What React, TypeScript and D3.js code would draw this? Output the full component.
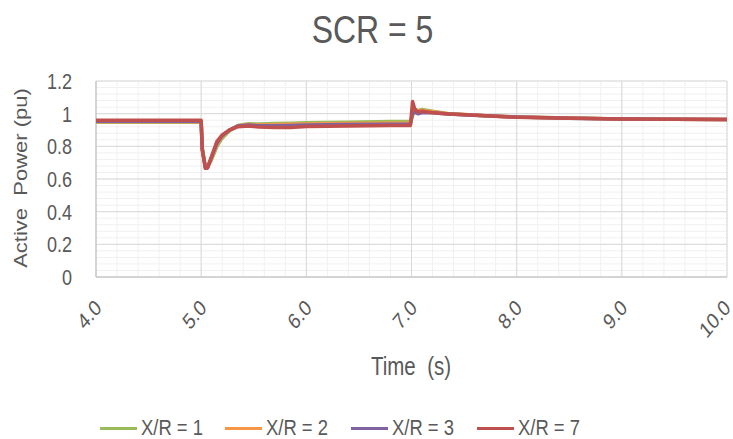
import React from "react";
import * as d3 from "d3";

const title = "SCR = 5";
const xLabel = "Time  (s)";
const yLabel = "Active  Power (pu)";
const xTicks = [4, 5, 6, 7, 8, 9, 10];
const yTicks = [0, 0.2, 0.4, 0.6, 0.8, 1, 1.2];
const seriesNames = ["X/R = 1", "X/R = 2", "X/R = 3", "X/R = 7"];
const seriesColors = ["#9BBB59", "#F79646", "#8064A2", "#C0504D"];

const time = [4.0, 5.0, 5.01, 5.04, 5.06, 5.1, 5.15, 5.2, 5.27, 5.35, 5.45, 5.55, 5.7, 5.85, 6.0, 6.4, 6.8, 6.99, 7.01, 7.03, 7.06, 7.1, 7.2, 7.35, 7.5, 7.75, 8.0, 8.5, 9.0, 9.5, 10.0];
const xr1 = [0.948, 0.948, 0.79, 0.675, 0.67, 0.72, 0.8, 0.85, 0.895, 0.928, 0.938, 0.936, 0.94, 0.942, 0.944, 0.948, 0.952, 0.953, 0.99, 1.01, 1.02, 1.025, 1.015, 1.0, 0.995, 0.985, 0.98, 0.973, 0.968, 0.966, 0.965];
const xr2 = [0.95, 0.95, 0.79, 0.67, 0.668, 0.73, 0.815, 0.86, 0.9, 0.926, 0.933, 0.93, 0.932, 0.935, 0.937, 0.94, 0.942, 0.943, 1.0, 1.03, 1.015, 1.02, 1.012, 1.0, 0.995, 0.986, 0.98, 0.973, 0.968, 0.966, 0.965];
const xr3 = [0.953, 0.953, 0.785, 0.668, 0.668, 0.735, 0.82, 0.865, 0.9, 0.925, 0.93, 0.926, 0.926, 0.928, 0.93, 0.933, 0.935, 0.936, 1.0, 1.01, 1.0, 1.005, 1.005, 0.998, 0.994, 0.985, 0.979, 0.972, 0.968, 0.966, 0.965];
const xr7 = [0.96, 0.96, 0.78, 0.665, 0.668, 0.74, 0.83, 0.87, 0.9, 0.92, 0.925, 0.918, 0.915, 0.916, 0.922, 0.925, 0.927, 0.928, 1.075, 1.03, 1.01, 1.015, 1.005, 0.998, 0.993, 0.985, 0.978, 0.972, 0.968, 0.966, 0.965];
const seriesValues = [xr1, xr2, xr3, xr7];

const W = 733;
const H = 439;
const SX = 0.82;
const FONT = "'Liberation Sans', Arial, sans-serif";
const TXT = "#595959";

export default function App() {
  const x = d3.scaleLinear().domain([4, 10]).range([96, 727]);
  const y = d3.scaleLinear().domain([0, 1.2]).range([277, 81]);
  const minorX = d3.range(4, 10.0001, 0.2);
  const minorY = d3.range(0, 1.2001, 0.04);
  const line = d3
    .line<[number, number]>()
    .x((d) => x(d[0]))
    .y((d) => y(d[1]));

  const legendX = [100, 225, 351, 477];

  return (
    <svg
      width={W}
      height={H}
      style={{ position: "absolute", left: 0, top: 0, background: "#fff" }}
      fontFamily={FONT}
    >
      <rect width={W} height={H} fill="#fff" />
      {minorX.map((v, i) => (
        <line key={"mx" + i} x1={x(v)} x2={x(v)} y1={y(0)} y2={y(1.2)} stroke="#F0F0F0" strokeWidth={1} />
      ))}
      {minorY.map((v, i) => (
        <line key={"my" + i} x1={x(4)} x2={x(10)} y1={y(v)} y2={y(v)} stroke="#F0F0F0" strokeWidth={1} />
      ))}
      {xTicks.map((v) => (
        <line key={"gx" + v} x1={x(v)} x2={x(v)} y1={y(0)} y2={y(1.2)} stroke="#D9D9D9" strokeWidth={1} />
      ))}
      {yTicks.map((v) => (
        <line key={"gy" + v} x1={x(4)} x2={x(10)} y1={y(v)} y2={y(v)} stroke="#D9D9D9" strokeWidth={1} />
      ))}
      <line x1={x(4)} x2={x(4)} y1={y(0)} y2={y(1.2)} stroke="#BFBFBF" strokeWidth={1} />
      <line x1={x(4)} x2={x(10)} y1={y(0)} y2={y(0)} stroke="#BFBFBF" strokeWidth={1} />

      {seriesValues.map((vals, si) => (
        <path
          key={"s" + si}
          d={line(time.map((t, i) => [t, vals[i]] as [number, number])) || ""}
          fill="none"
          stroke={seriesColors[si]}
          strokeWidth={3.5}
          strokeLinejoin="round"
        />
      ))}

      {yTicks.map((v) => (
        <text
          key={"yl" + v}
          transform={`translate(72,${y(v) + 8}) scale(${SX},1)`}
          textAnchor="end"
          fontSize={22}
          fill={TXT}
        >
          {String(v)}
        </text>
      ))}
      {xTicks.map((v) => (
        <text
          key={"xl" + v}
          transform={`translate(${Math.min(x(v) + 6.5, 731.5)},309) scale(${SX},1) rotate(-45)`}
          textAnchor="end"
          fontSize={22}
          fill={TXT}
        >
          {v.toFixed(1)}
        </text>
      ))}

      <text transform={`translate(372.5,43) scale(${SX},1)`} textAnchor="middle" fontSize={39} fill={TXT}>
        {title}
      </text>
      <text transform={`translate(411,375) scale(${SX},1)`} textAnchor="middle" fontSize={25} fill={TXT} style={{ whiteSpace: "pre" }}>
        {xLabel}
      </text>
      <text transform={`translate(27,178) scale(${SX},1) rotate(-90)`} textAnchor="middle" fontSize={22} fill={TXT} style={{ whiteSpace: "pre" }}>
        {yLabel}
      </text>

      {seriesNames.map((n, i) => (
        <g key={"lg" + i}>
          <line x1={legendX[i]} x2={legendX[i] + 37} y1={428.5} y2={428.5} stroke={seriesColors[i]} strokeWidth={3} />
          <text transform={`translate(${legendX[i] + 41},435) scale(${SX},1)`} fontSize={22.5} fill={TXT}>
            {n}
          </text>
        </g>
      ))}
    </svg>
  );
}
